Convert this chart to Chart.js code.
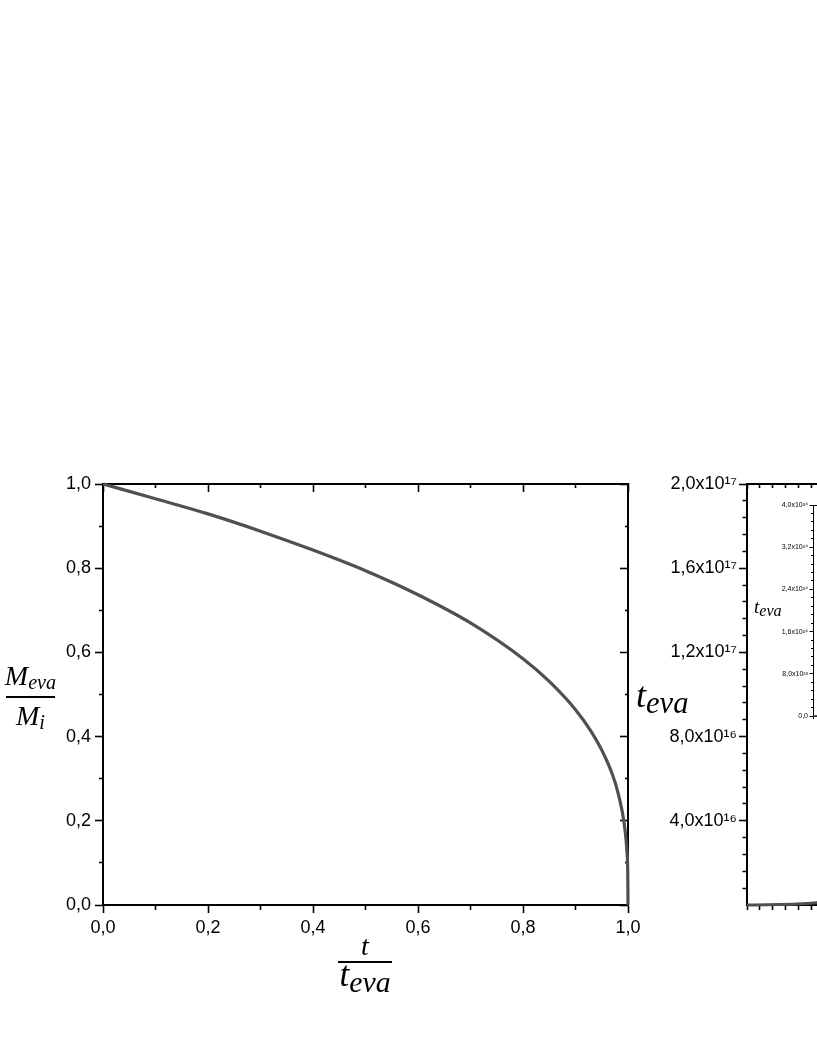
<!DOCTYPE html>
<html>
<head>
<meta charset="utf-8">
<script src="https://cdn.jsdelivr.net/npm/chart.js@4.4.1/dist/chart.umd.min.js"></script>
<style>
  html, body { margin: 0; padding: 0; background: #fff; overflow: hidden; width: 817px; height: 1058px; }
  .box { position: absolute; }
  .math { position: absolute; font-family: "Liberation Serif", "DejaVu Serif", serif; font-style: italic; color: #000; white-space: nowrap; line-height: 1; }
  .sb { position: relative; top: 0.2em; }
  .bar { position: absolute; background: #000; }
</style>
</head>
<body>
<div class="box" style="left:0;top:440px;width:650px;height:520px"><canvas id="massChart"></canvas></div>
<div class="box" style="left:630px;top:440px;width:660px;height:520px"><canvas id="timeChart"></canvas></div>
<div class="box" style="left:745px;top:480px;width:300px;height:260px"><canvas id="insetChart"></canvas></div>

<!-- axis titles -->
<div class="math" style="left:4px;top:662px;width:53px;text-align:center;font-size:28px">M<span class="sb" style="font-size:0.72em">eva</span></div>
<div class="bar" style="left:6px;top:696px;width:49px;height:2px"></div>
<div class="math" style="left:4px;top:702px;width:53px;text-align:center;font-size:28px">M<span class="sb" style="font-size:0.72em">i</span></div>

<div class="math" style="left:325px;top:932px;width:80px;text-align:center;font-size:28px">t</div>
<div class="bar" style="left:338px;top:961px;width:54px;height:2px"></div>
<div class="math" style="left:325px;top:957px;width:80px;text-align:center;font-size:35px">t<span class="sb" style="font-size:0.85em">eva</span></div>

<div class="math" style="left:636px;top:677px;font-size:36px">t<span class="sb" style="font-size:0.85em">eva</span></div>
<div class="math" style="left:754px;top:597px;font-size:19px">t<span class="sb" style="font-size:0.85em">eva</span></div>

<script>
// M_eva / M_i against t / t_eva
const tRatio = [0, 0.1, 0.2, 0.3, 0.4, 0.5, 0.6, 0.7, 0.8, 0.85, 0.9, 0.93, 0.95, 0.97, 0.98, 0.99, 0.995, 0.998, 0.9995, 1.0];
const massRatio = [1.0, 0.965, 0.929, 0.888, 0.843, 0.794, 0.737, 0.670, 0.585, 0.531, 0.464, 0.412, 0.368, 0.311, 0.271, 0.215, 0.171, 0.126, 0.08, 0];
const ratioTickLabels = ['0,0', '0,2', '0,4', '0,6', '0,8', '1,0'];

// right panel, mostly cut off by the page edge
const massAxis = [0, 5, 10, 15, 20, 25, 30, 35, 40];
const tEva = [0, 8e14, 5.5e15, 1.7e16, 3.6e16, 6.0e16, 9.5e16, 1.4e17, 1.95e17];
const tEvaTickLabels = ['', '4,0x10¹⁶', '8,0x10¹⁶', '1,2x10¹⁷', '1,6x10¹⁷', '2,0x10¹⁷'];

// inset of the right panel
const insetMass = [0, 10, 20, 30, 40];
const insetTEva = [0, 6e22, 5e23, 1.7e24, 4.0e24];
const insetTickLabels = ['0,0', '8,0x10²³', '1,6x10²⁴', '2,4x10²⁴', '3,2x10²⁴', '4,0x10²⁴'];

const sansFont = "'Liberation Sans', Arial, sans-serif";
const lineColor = '#505050';

function onStep(v, step) {
    const r = v / step;
    return Math.abs(r - Math.round(r)) < 1e-6;
}

// one side of the frame: border, major + minor ticks (minor ones shortened with a dash)
function frameAxis(pos, o) {
    const horizontal = pos === 'top' || pos === 'bottom';
    const axisFirst = pos === 'bottom' || pos === 'right';
    const len = Math.abs(o.len);
    return {
        type: 'linear',
        axis: horizontal ? 'x' : 'y',
        position: pos,
        min: o.min,
        max: o.max,
        grid: {
            drawOnChartArea: false,
            tickLength: o.len,
            tickColor: '#000',
            tickWidth: o.tickWidth || 1.6,
            tickBorderDash: ctx => {
                if (!ctx.tick) return [];
                if (o.noZeroTick && ctx.tick.value === 0) return [0, 100];
                if (onStep(ctx.tick.value, o.major)) return [];
                return axisFirst ? [o.minor, 100] : [0, len - o.minor, o.minor, 100];
            }
        },
        border: { display: true, color: '#000', width: o.border || 2 },
        ticks: {
            stepSize: o.step,
            autoSkip: false,
            maxRotation: 0,
            display: !!o.labels,
            padding: o.padding || 4,
            color: '#000',
            font: { family: sansFont, size: o.fontSize || 18 },
            callback: v => {
                if (!o.labels || !onStep(v, o.major)) return '';
                return o.labels[Math.round((v - o.min) / o.major)] || '';
            }
        },
        afterFit: s => {
            if (horizontal) s.height = o.size; else s.width = o.size;
        }
    };
}

function points(xs, ys) {
    return xs.map((x, i) => ({ x: x, y: ys[i] }));
}

function curve(xs, ys, width) {
    return {
        data: points(xs, ys),
        borderColor: lineColor,
        borderWidth: width,
        pointRadius: 0,
        cubicInterpolationMode: 'monotone',
        clip: false,
        fill: false
    };
}

const common = {
    responsive: true,
    maintainAspectRatio: false,
    animation: false,
    events: [],
    plugins: { legend: { display: false }, tooltip: { enabled: false } }
};

new Chart(document.getElementById('massChart'), {
    type: 'line',
    data: { datasets: [curve(tRatio, massRatio, 3.2)] },
    options: {
        ...common,
        layout: { padding: { left: 0, top: 44, right: 22, bottom: 0 } },
        scales: {
            x: frameAxis('bottom', { min: 0, max: 1, step: 0.1, major: 0.2, len: 8, minor: 4, size: 55, labels: ratioTickLabels, padding: 4 }),
            xTop: frameAxis('top', { min: 0, max: 1, step: 0.1, major: 0.2, len: -8, minor: 4, size: 0 }),
            y: frameAxis('left', { min: 0, max: 1, step: 0.1, major: 0.2, len: 8, minor: 4, size: 103, labels: ratioTickLabels, padding: 4 }),
            yRight: frameAxis('right', { min: 0, max: 1, step: 0.1, major: 0.2, len: -8, minor: 4, size: 0 })
        }
    }
});

new Chart(document.getElementById('timeChart'), {
    type: 'line',
    data: { datasets: [curve(massAxis, tEva, 3)] },
    options: {
        ...common,
        layout: { padding: { left: 0, top: 44, right: 31, bottom: 0 } },
        scales: {
            x: frameAxis('bottom', { min: 0, max: 40, step: 1, major: 10, len: 5, minor: 4, size: 55 }),
            xTop: frameAxis('top', { min: 0, max: 40, step: 1, major: 10, len: -5, minor: 4, size: 0 }),
            y: frameAxis('left', { min: 0, max: 2e17, step: 8e15, major: 4e16, len: 8, minor: 4.5, size: 117, labels: tEvaTickLabels, padding: 2, noZeroTick: true }),
            yRight: frameAxis('right', { min: 0, max: 2e17, step: 8e15, major: 4e16, len: -8, minor: 4.5, size: 0 })
        }
    }
});

new Chart(document.getElementById('insetChart'), {
    type: 'line',
    data: { datasets: [curve(insetMass, insetTEva, 1.5)] },
    options: {
        ...common,
        layout: { padding: { left: 0, top: 25, right: 20, bottom: 0 } },
        scales: {
            x: frameAxis('bottom', { min: 0, max: 40, step: 5, major: 10, len: 3, minor: 2, size: 24, border: 1, tickWidth: 1 }),
            xTop: frameAxis('top', { min: 0, max: 40, step: 5, major: 10, len: -3, minor: 2, size: 0, border: 1, tickWidth: 1 }),
            y: frameAxis('left', { min: 0, max: 4e24, step: 1.6e23, major: 8e23, len: 3.5, minor: 2, size: 68, labels: insetTickLabels, fontSize: 7, padding: 1.5, border: 1, tickWidth: 1 }),
            yRight: frameAxis('right', { min: 0, max: 4e24, step: 1.6e23, major: 8e23, len: -3.5, minor: 2, size: 0, border: 1, tickWidth: 1 })
        }
    }
});
</script>
</body>
</html>
